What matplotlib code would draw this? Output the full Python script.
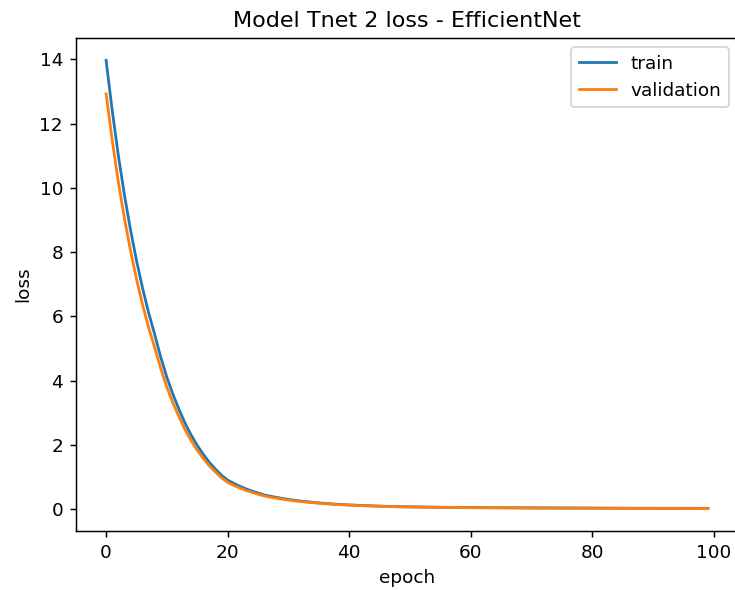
import matplotlib
matplotlib.use("Agg")
import matplotlib.pyplot as plt

# Per-epoch loss history (epochs 0..99)
train_loss = [
    13.97, 12.42, 11.03, 9.80, 8.71, 7.74, 6.88, 6.11, 5.43, 4.72,
    4.10, 3.57, 3.10, 2.67, 2.30, 1.98, 1.70, 1.45, 1.24, 1.05,
    0.90, 0.80, 0.71, 0.63, 0.56, 0.50, 0.44, 0.40, 0.363, 0.330,
    0.300, 0.273, 0.248, 0.228, 0.209, 0.192, 0.176, 0.162, 0.149, 0.139,
    0.129, 0.121, 0.112, 0.105, 0.098, 0.091, 0.085, 0.079, 0.074, 0.071,
    0.068, 0.066, 0.063, 0.061, 0.058, 0.056, 0.054, 0.052, 0.050, 0.048,
    0.046, 0.045, 0.044, 0.043, 0.042, 0.041, 0.040, 0.039, 0.038, 0.038,
    0.037, 0.036, 0.035, 0.035, 0.034, 0.033, 0.033, 0.032, 0.031, 0.031,
    0.030, 0.030, 0.029, 0.028, 0.028, 0.027, 0.027, 0.026, 0.026, 0.025,
    0.025, 0.024, 0.024, 0.023, 0.023, 0.022, 0.022, 0.021, 0.021, 0.021,
]

val_loss = [
    12.93, 11.49, 10.20, 9.07, 8.06, 7.16, 6.36, 5.65, 5.02, 4.37,
    3.79, 3.30, 2.87, 2.47, 2.13, 1.83, 1.57, 1.34, 1.15, 0.97,
    0.83, 0.735, 0.655, 0.58, 0.52, 0.46, 0.41, 0.37, 0.337, 0.307,
    0.280, 0.255, 0.232, 0.214, 0.197, 0.181, 0.166, 0.153, 0.141, 0.131,
    0.122, 0.114, 0.106, 0.099, 0.092, 0.086, 0.080, 0.075, 0.070, 0.067,
    0.064, 0.061, 0.058, 0.056, 0.054, 0.052, 0.050, 0.048, 0.046, 0.044,
    0.042, 0.041, 0.040, 0.039, 0.038, 0.037, 0.036, 0.035, 0.034, 0.033,
    0.032, 0.031, 0.030, 0.030, 0.029, 0.028, 0.027, 0.027, 0.026, 0.025,
    0.025, 0.024, 0.023, 0.023, 0.022, 0.022, 0.021, 0.020, 0.020, 0.019,
    0.019, 0.018, 0.018, 0.017, 0.017, 0.016, 0.016, 0.015, 0.015, 0.014,
]

series_labels = ["train", "validation"]
title = "Model Tnet 2 loss - EfficientNet"

DPI = 133.5
fig = plt.figure(figsize=(735 / DPI, 590 / DPI), dpi=DPI)
# The plot area runs slightly past the right edge of the canvas
ax = fig.add_axes([76 / 735, 59 / 590, 662 / 735, 493 / 590])

ax.plot(range(len(train_loss)), train_loss, label=series_labels[0])
ax.plot(range(len(val_loss)), val_loss, label=series_labels[1])

ax.spines["right"].set_visible(False)
ax.set_title(title)
ax.set_xlabel("epoch")
ax.set_ylabel("loss")
ax.legend(loc="upper right")

fig.savefig("out.png", dpi=DPI)
